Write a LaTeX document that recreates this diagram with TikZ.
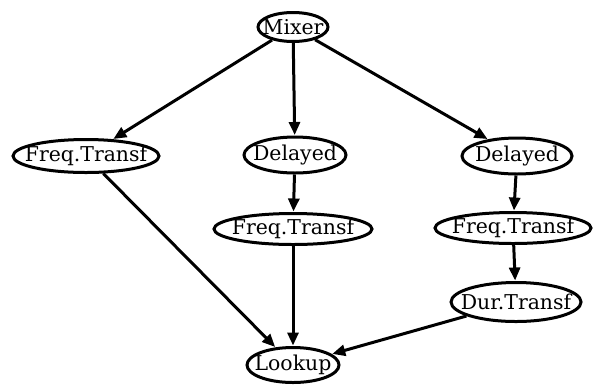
\documentclass[tikz,border=0pt]{standalone}
\usepackage{fontspec}
\setmainfont{DejaVu Serif}
\usetikzlibrary{shapes.geometric,arrows.meta}
\begin{document}
\begin{tikzpicture}[x=1bp,y=-1bp,
  nd/.style={ellipse,draw,line width=3bp,inner sep=0pt,font=\fontsize{20.5}{21}\selectfont},
  cn/.style={line width=3bp,-{Triangle[length=13bp,width=11bp]},shorten >=0.5bp}]
\useasboundingbox (0,0) rectangle (595,386);
\node[nd,minimum width=70bp,minimum height=29bp] (mix) at (293,27) {\makebox[0pt]{Mixer}};
\node[nd,minimum width=146bp,minimum height=33bp] (f1) at (86,156) {\makebox[0pt]{Freq.Transf}};
\node[nd,minimum width=102bp,minimum height=36bp] (d2) at (295,155) {\makebox[0pt]{Delayed}};
\node[nd,minimum width=158bp,minimum height=31bp] (f2) at (293,229) {\makebox[0pt]{Freq.Transf}};
\node[nd,minimum width=110bp,minimum height=36bp] (d3) at (517,156) {\makebox[0pt]{Delayed}};
\node[nd,minimum width=156bp,minimum height=31bp] (f3) at (513,228) {\makebox[0pt]{Freq.Transf}};
\node[nd,minimum width=130bp,minimum height=39bp] (dur) at (516,302) {\makebox[0pt]{Dur.Transf}};
\node[nd,minimum width=92bp,minimum height=35bp] (look) at (293,365) {\makebox[0pt]{Lookup}};
\draw[cn] (mix) -- (f1);
\draw[cn] (mix) -- (d2);
\draw[cn] (mix) -- (d3);
\draw[cn] (d2) -- (f2);
\draw[cn] (d3) -- (f3);
\draw[cn] (f3) -- (dur);
\draw[cn] (f1) -- (look);
\draw[cn] (f2) -- (look);
\draw[cn] (dur) -- (look);
\end{tikzpicture}
\end{document}
